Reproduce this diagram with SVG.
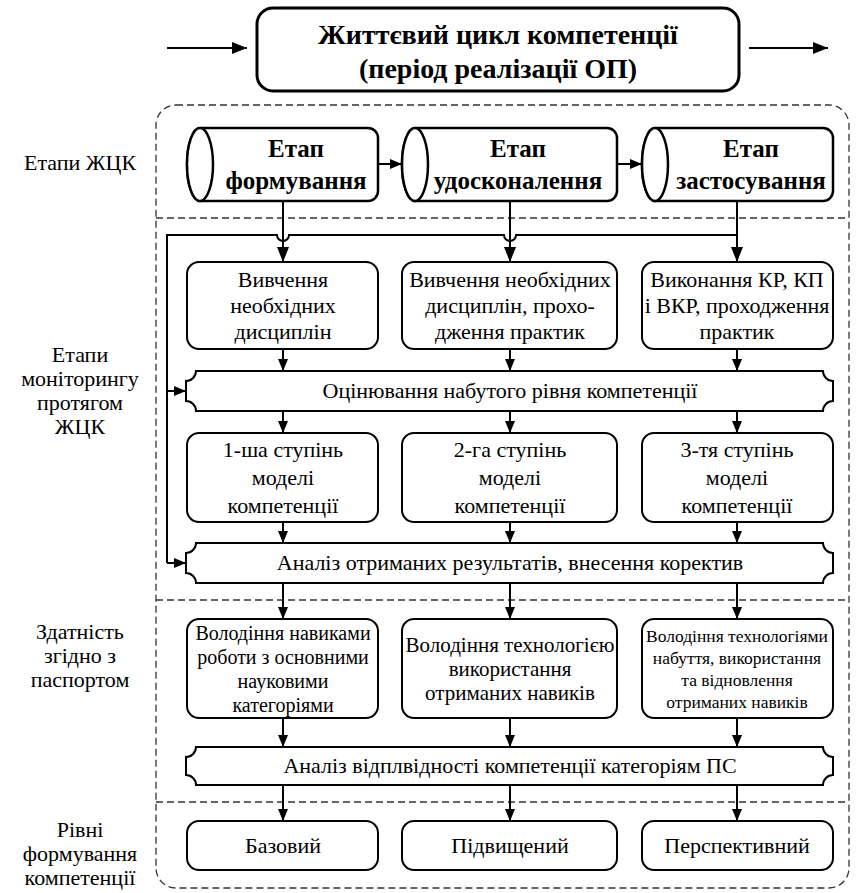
<svg xmlns="http://www.w3.org/2000/svg" width="856" height="893" viewBox="0 0 856 893">
<defs>
<marker id="ah" markerUnits="userSpaceOnUse" markerWidth="12" markerHeight="10" refX="12" refY="5" orient="auto"><path d="M0,0 L12,5 L0,10 z" fill="#000"/></marker>
<marker id="ahb" markerUnits="userSpaceOnUse" markerWidth="15" markerHeight="12" refX="15" refY="6" orient="auto"><path d="M0,0 L15,6 L0,12 z" fill="#000"/></marker>
<style>
text{font-family:'Liberation Serif','Times New Roman',serif;fill:#000;text-anchor:middle}
.r22{font-size:22px}
.r20{font-size:20px}
.r21{font-size:21px}
.r17{font-size:17.5px}
.b25{font-size:25px;font-weight:bold}
.b28{font-size:28px;font-weight:bold}
.box{fill:#fff;stroke:#000;stroke-width:2}
.cyl{fill:#fff;stroke:#000;stroke-width:2.5}
.dash{fill:none;stroke:#333;stroke-width:1.3;stroke-dasharray:7 4}
.ln{fill:none;stroke:#000;stroke-width:2}
</style>
</defs>
<rect width="856" height="893" fill="#fff"/>

<g id="frame">
<rect class="dash" x="156" y="105" width="693" height="783" rx="20"/>
<line class="dash" x1="156" y1="218" x2="849" y2="218"/>
<line class="dash" x1="156" y1="600" x2="849" y2="600"/>
<line class="dash" x1="156" y1="802" x2="849" y2="802"/>
</g>

<g id="labels">
<text class="r22" x="80" y="170">Етапи ЖЦК</text>
<text class="r22" x="80" y="362">Етапи</text>
<text class="r22" x="80" y="386">моніторингу</text>
<text class="r22" x="80" y="410">протягом</text>
<text class="r22" x="80" y="434">ЖЦК</text>
<text class="r22" x="80" y="639">Здатність</text>
<text class="r22" x="80" y="663">згідно з</text>
<text class="r22" x="80" y="687">паспортом</text>
<text class="r22" x="80" y="837">Рівні</text>
<text class="r22" x="80" y="861">формування</text>
<text class="r22" x="80" y="885">компетенції</text>
</g>

<g id="connectors">
<line class="ln" x1="167" y1="48" x2="247" y2="48" stroke-width="2.5" marker-end="url(#ahb)"/>
<line class="ln" x1="749" y1="48" x2="828" y2="48" stroke-width="2.5" marker-end="url(#ahb)"/>
<line class="ln" x1="378" y1="164" x2="402" y2="164" marker-end="url(#ah)"/>
<line class="ln" x1="617" y1="164" x2="642" y2="164" marker-end="url(#ah)"/>
<line class="ln" x1="283" y1="201" x2="283" y2="262" marker-end="url(#ahb)"/>
<line class="ln" x1="510" y1="201" x2="510" y2="262" marker-end="url(#ahb)"/>
<line class="ln" x1="737" y1="201" x2="737" y2="262" marker-end="url(#ahb)"/>
<path class="ln" d="M737,235 H516 A6,6 0 0 1 504,235 H289 A6,6 0 0 1 277,235 H167 V563"/>
<line class="ln" x1="167" y1="391" x2="186" y2="391" marker-end="url(#ah)"/>
<line class="ln" x1="167" y1="563" x2="186" y2="563" marker-end="url(#ah)"/>
<line class="ln" x1="283" y1="349" x2="283" y2="371" marker-end="url(#ah)"/>
<line class="ln" x1="510" y1="349" x2="510" y2="371" marker-end="url(#ah)"/>
<line class="ln" x1="737" y1="349" x2="737" y2="371" marker-end="url(#ah)"/>
<line class="ln" x1="283" y1="411" x2="283" y2="433" marker-end="url(#ah)"/>
<line class="ln" x1="510" y1="411" x2="510" y2="433" marker-end="url(#ah)"/>
<line class="ln" x1="737" y1="411" x2="737" y2="433" marker-end="url(#ah)"/>
<line class="ln" x1="283" y1="522" x2="283" y2="543" marker-end="url(#ah)"/>
<line class="ln" x1="510" y1="522" x2="510" y2="543" marker-end="url(#ah)"/>
<line class="ln" x1="737" y1="522" x2="737" y2="543" marker-end="url(#ah)"/>
<line class="ln" x1="283" y1="583" x2="283" y2="619" marker-end="url(#ah)"/>
<line class="ln" x1="510" y1="583" x2="510" y2="619" marker-end="url(#ah)"/>
<line class="ln" x1="737" y1="583" x2="737" y2="619" marker-end="url(#ah)"/>
<line class="ln" x1="283" y1="718" x2="283" y2="747" marker-end="url(#ah)"/>
<line class="ln" x1="510" y1="718" x2="510" y2="747" marker-end="url(#ah)"/>
<line class="ln" x1="737" y1="718" x2="737" y2="747" marker-end="url(#ah)"/>
<line class="ln" x1="283" y1="785" x2="283" y2="821" marker-end="url(#ah)"/>
<line class="ln" x1="510" y1="785" x2="510" y2="821" marker-end="url(#ah)"/>
<line class="ln" x1="737" y1="785" x2="737" y2="821" marker-end="url(#ah)"/>
</g>

<g id="title">
<rect x="257" y="8" width="482" height="83" rx="16" fill="#fff" stroke="#000" stroke-width="3"/>
<text class="b28" x="498" y="44">Життєвий цикл компетенції</text>
<text class="b28" x="498" y="78">(період реалізації ОП)</text>
</g>

<g id="cyl1">
<path class="cyl" d="M200,128 H368 A10,10 0 0 1 378,138 V191 A10,10 0 0 1 368,201 H200 A13,36.5 0 0 1 200,128 Z"/>
<ellipse class="cyl" cx="200" cy="164.5" rx="13" ry="36.5"/>
<text class="b25" x="296" y="157">Етап</text>
<text class="b25" x="296" y="189">формування</text>
</g>
<g id="cyl2">
<path class="cyl" d="M415,128 H607 A10,10 0 0 1 617,138 V191 A10,10 0 0 1 607,201 H415 A13,36.5 0 0 1 415,128 Z"/>
<ellipse class="cyl" cx="415" cy="164.5" rx="13" ry="36.5"/>
<text class="b25" x="518" y="157">Етап</text>
<text class="b25" x="518" y="189">удосконалення</text>
</g>
<g id="cyl3">
<path class="cyl" d="M655,128 H823 A10,10 0 0 1 833,138 V191 A10,10 0 0 1 823,201 H655 A13,36.5 0 0 1 655,128 Z"/>
<ellipse class="cyl" cx="655" cy="164.5" rx="13" ry="36.5"/>
<text class="b25" x="751" y="157">Етап</text>
<text class="b25" x="751" y="189">застосування</text>
</g>

<g id="r2c1">
<rect class="box" x="187" y="262" width="191" height="87" rx="12"/>
<text class="r22" x="283" y="287">Вивчення</text>
<text class="r22" x="283" y="313">необхідних</text>
<text class="r22" x="283" y="339">дисциплін</text>
</g>
<g id="r2c2">
<rect class="box" x="402" y="262" width="215" height="87" rx="12"/>
<text class="r22" x="510" y="287">Вивчення необхідних</text>
<text class="r22" x="510" y="313">дисциплін, прохо-</text>
<text class="r22" x="510" y="339">дження практик</text>
</g>
<g id="r2c3">
<rect class="box" x="642" y="262" width="191" height="87" rx="12"/>
<text class="r22" x="737" y="287">Виконання КР, КП</text>
<text class="r22" x="737" y="313">і ВКР, проходження</text>
<text class="r22" x="737" y="339">практик</text>
</g>

<g id="scroll1">
<path class="box" d="M196,371 H823 A10,10 0 0 0 833,381 V401 A10,10 0 0 0 823,411 H196 A10,10 0 0 0 186,401 V381 A10,10 0 0 0 196,371 Z"/>
<text class="r22" x="510" y="398">Оцінювання набутого рівня компетенції</text>
</g>

<g id="r3c1">
<rect class="box" x="187" y="433" width="191" height="89" rx="12"/>
<text class="r22" x="283" y="457">1-ша ступінь</text>
<text class="r22" x="283" y="485">моделі</text>
<text class="r22" x="283" y="513">компетенції</text>
</g>
<g id="r3c2">
<rect class="box" x="402" y="433" width="215" height="89" rx="12"/>
<text class="r22" x="510" y="457">2-га ступінь</text>
<text class="r22" x="510" y="485">моделі</text>
<text class="r22" x="510" y="513">компетенції</text>
</g>
<g id="r3c3">
<rect class="box" x="642" y="433" width="191" height="89" rx="12"/>
<text class="r22" x="737" y="457">3-тя ступінь</text>
<text class="r22" x="737" y="485">моделі</text>
<text class="r22" x="737" y="513">компетенції</text>
</g>

<g id="scroll2">
<path class="box" d="M196,543 H823 A10,10 0 0 0 833,553 V573 A10,10 0 0 0 823,583 H196 A10,10 0 0 0 186,573 V553 A10,10 0 0 0 196,543 Z"/>
<text class="r22" x="510" y="570">Аналіз отриманих результатів, внесення коректив</text>
</g>

<g id="r4c1">
<rect class="box" x="187" y="619" width="191" height="99" rx="12"/>
<text class="r20" x="283" y="640">Володіння навиками</text>
<text class="r20" x="283" y="664">роботи з основними</text>
<text class="r20" x="283" y="688">науковими</text>
<text class="r20" x="283" y="712">категоріями</text>
</g>
<g id="r4c2">
<rect class="box" x="402" y="619" width="215" height="99" rx="12"/>
<text class="r21" x="510" y="652">Володіння технологією</text>
<text class="r21" x="510" y="676">використання</text>
<text class="r21" x="510" y="700">отриманих навиків</text>
</g>
<g id="r4c3">
<rect class="box" x="642" y="619" width="191" height="99" rx="12"/>
<text class="r17" x="737" y="642">Володіння технологіями</text>
<text class="r17" x="737" y="664">набуття, використання</text>
<text class="r17" x="737" y="686">та відновлення</text>
<text class="r17" x="737" y="708">отриманих навиків</text>
</g>

<g id="scroll3">
<path class="box" d="M196,747 H823 A10,10 0 0 0 833,757 V775 A10,10 0 0 0 823,785 H196 A10,10 0 0 0 186,775 V757 A10,10 0 0 0 196,747 Z"/>
<text class="r22" x="510" y="773">Аналіз відплвідності компетенції категоріям ПС</text>
</g>

<g id="r5c1">
<rect class="box" x="187" y="821" width="191" height="49" rx="12"/>
<text class="r22" x="283" y="853">Базовий</text>
</g>
<g id="r5c2">
<rect class="box" x="402" y="821" width="215" height="49" rx="12"/>
<text class="r22" x="510" y="853">Підвищений</text>
</g>
<g id="r5c3">
<rect class="box" x="642" y="821" width="191" height="49" rx="12"/>
<text class="r22" x="737" y="853">Перспективний</text>
</g>
</svg>
